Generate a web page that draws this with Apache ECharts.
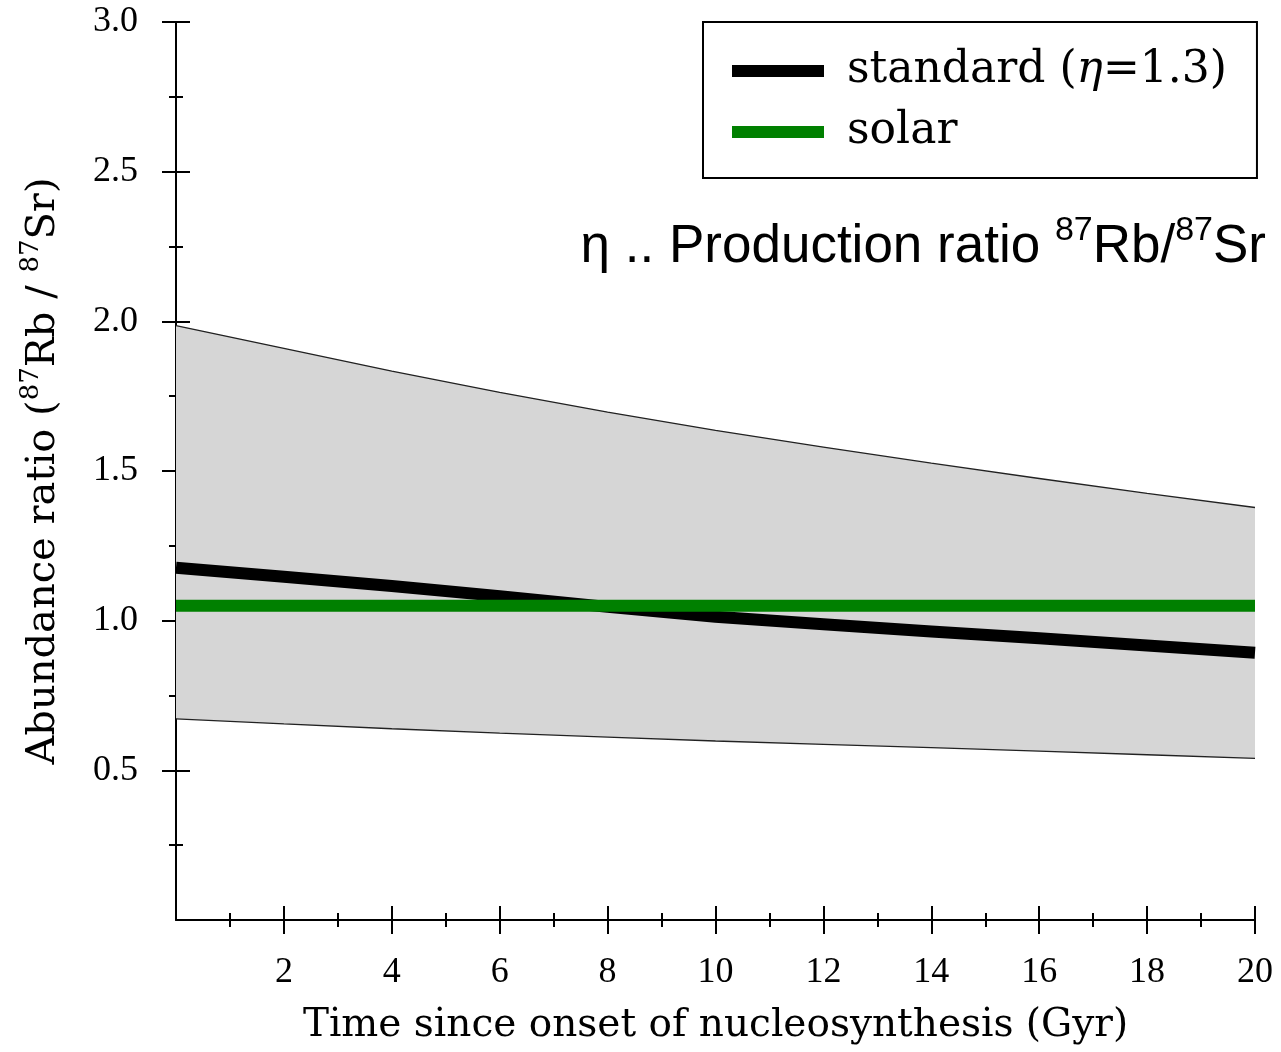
<!DOCTYPE html>
<html>
<head>
<meta charset="utf-8">
<script src="https://cdn.jsdelivr.net/npm/echarts@6/dist/echarts.min.js"></script>
<style>
html,body{margin:0;padding:0;background:#fff;}
#main{width:1281px;height:1052px;}
</style>
</head>
<body>
<div id="main"></div>
<script>
// ---- data ----
const timeGyr = [0, 2, 4, 6, 8, 10, 12, 14, 16, 18, 20];
const standardRatio = [1.177, 1.147, 1.116, 1.082, 1.046, 1.013, 0.988, 0.964, 0.941, 0.917, 0.893];
const upperBound = [1.986, 1.910, 1.834, 1.763, 1.697, 1.636, 1.580, 1.526, 1.475, 1.425, 1.378];
const lowerBound = [0.672, 0.655, 0.639, 0.624, 0.611, 0.598, 0.587, 0.576, 0.564, 0.552, 0.540];
const solarRatio = [1.05, 1.05, 1.05, 1.05, 1.05, 1.05, 1.05, 1.05, 1.05, 1.05, 1.05];
const xTickValues = [2, 4, 6, 8, 10, 12, 14, 16, 18, 20];
const yTickValues = [0.5, 1.0, 1.5, 2.0, 2.5, 3.0];

const serif = '"Liberation Serif", "DejaVu Serif", serif';
const wideSerif = '"DejaVu Serif", "Liberation Serif", serif';
const sans = '"Liberation Sans", Arial, sans-serif';

const pair = (ys) => timeGyr.map((x, i) => [x, ys[i]]);

const chart = echarts.init(document.getElementById('main'), null, {renderer: 'canvas'});

const axisCommonX = {
  type: 'value', min: 0, max: 20, interval: 2, gridIndex: 0, position: 'bottom',
  splitLine: {show: false}
};
const axisCommonY = {
  type: 'value', min: 0, max: 3, interval: 0.5, gridIndex: 0, position: 'left',
  splitLine: {show: false}
};
const tickLine = {color: '#000', width: 2};

chart.setOption({
  animation: false,
  backgroundColor: '#fff',
  grid: {left: 176, right: 26, top: 22, bottom: 132, containLabel: false},
  xAxis: [
    Object.assign({}, axisCommonX, {
      axisLine: {show: true, onZero: false, lineStyle: {color: '#000', width: 2}},
      axisTick: {show: true, inside: false, length: 14, customValues: xTickValues, lineStyle: tickLine},
      minorTick: {show: true, splitNumber: 2, length: 7, lineStyle: tickLine},
      axisLabel: {show: true, customValues: xTickValues, margin: 35, color: '#000', fontFamily: serif, fontSize: 36},
      name: 'Time since onset of nucleosynthesis (Gyr)',
      nameLocation: 'middle', nameGap: 86,
      nameTextStyle: {color: '#000', fontFamily: wideSerif, fontSize: 39}
    }),
    Object.assign({}, axisCommonX, {
      axisLine: {show: false},
      axisTick: {show: true, inside: true, length: 14, customValues: xTickValues, lineStyle: tickLine},
      minorTick: {show: true, splitNumber: 2, length: 7, lineStyle: tickLine},
      axisLabel: {show: false}
    })
  ],
  yAxis: [
    Object.assign({}, axisCommonY, {
      axisLine: {show: true, onZero: false, lineStyle: {color: '#000', width: 2}},
      axisTick: {show: true, inside: false, length: 14, customValues: yTickValues, lineStyle: tickLine},
      minorTick: {show: true, splitNumber: 2, length: 7, lineStyle: tickLine},
      axisLabel: {show: true, customValues: yTickValues, margin: 38, color: '#000', fontFamily: serif, fontSize: 36,
        formatter: (v) => v.toFixed(1)},
      name: '{n|Abundance ratio (}{s|87}{n|Rb / }{s|87}{n|Sr)}',
      nameLocation: 'middle', nameGap: 112,
      nameTextStyle: {
        color: '#000', fontFamily: wideSerif, fontSize: 40,
        rich: {
          n: {fontFamily: wideSerif, fontSize: 40, color: '#000', verticalAlign: 'bottom', lineHeight: 46},
          s: {fontFamily: wideSerif, fontSize: 26, color: '#000', verticalAlign: 'top', lineHeight: 46}
        }
      }
    }),
    Object.assign({}, axisCommonY, {
      axisLine: {show: false},
      axisTick: {show: true, inside: true, length: 14, customValues: yTickValues, lineStyle: tickLine},
      minorTick: {show: true, splitNumber: 2, length: 7, lineStyle: tickLine},
      axisLabel: {show: false}
    })
  ],
  legend: {
    show: true,
    orient: 'vertical',
    left: 703, top: 22,
    padding: [27, 30, 24, 29],
    itemGap: 17,
    itemWidth: 92, itemHeight: 12,
    icon: 'rect',
    borderColor: '#000', borderWidth: 2,
    backgroundColor: '#fff',
    data: ['standard', 'solar'],
    formatter: (name) => name === 'standard' ? '{a|standard (}{i|η}{a|=1.3)}' : '{a|solar}',
    textStyle: {
      color: '#000', fontFamily: wideSerif, fontSize: 44, padding: [0, 0, 0, 18],
      rich: {
        a: {fontFamily: wideSerif, fontSize: 44, color: '#000'},
        i: {fontFamily: wideSerif, fontSize: 44, fontStyle: 'italic', color: '#000'}
      }
    }
  },
  graphic: [{
    type: 'text',
    right: 15, top: 214, z: 100,
    style: {
      text: '{a|η .. Production ratio }{s|87}{a|Rb/}{s|87}{a|Sr}',
      rich: {
        a: {fontFamily: sans, fontSize: 53, fill: '#000', verticalAlign: 'bottom', lineHeight: 60},
        s: {fontFamily: sans, fontSize: 34, fill: '#000', verticalAlign: 'top', lineHeight: 60}
      }
    }
  }],
  series: [
    {
      name: 'band', type: 'custom', data: [0], silent: true, z: 1,
      renderItem: (params, api) => {
        const top = timeGyr.map((x, i) => api.coord([x, upperBound[i]]));
        const bottom = timeGyr.map((x, i) => api.coord([x, lowerBound[i]])).reverse();
        return {
          type: 'polygon',
          shape: {points: top.concat(bottom)},
          style: {fill: '#d6d6d6', stroke: null}
        };
      }
    },
    {
      name: 'upperEdge', type: 'line', data: pair(upperBound),
      symbol: 'none', lineStyle: {color: '#222', width: 1.3}, silent: true, z: 2
    },
    {
      name: 'lowerEdge', type: 'line', data: pair(lowerBound),
      symbol: 'none', lineStyle: {color: '#222', width: 1.3}, silent: true, z: 2
    },
    {
      name: 'standard', type: 'line', data: pair(standardRatio),
      symbol: 'none', itemStyle: {color: '#000'},
      lineStyle: {color: '#000', width: 12, join: 'round'}, z: 3
    },
    {
      name: 'solar', type: 'line', data: pair(solarRatio),
      symbol: 'none', itemStyle: {color: '#008000'},
      lineStyle: {color: '#008000', width: 12}, z: 4
    }
  ]
});
</script>
</body>
</html>
